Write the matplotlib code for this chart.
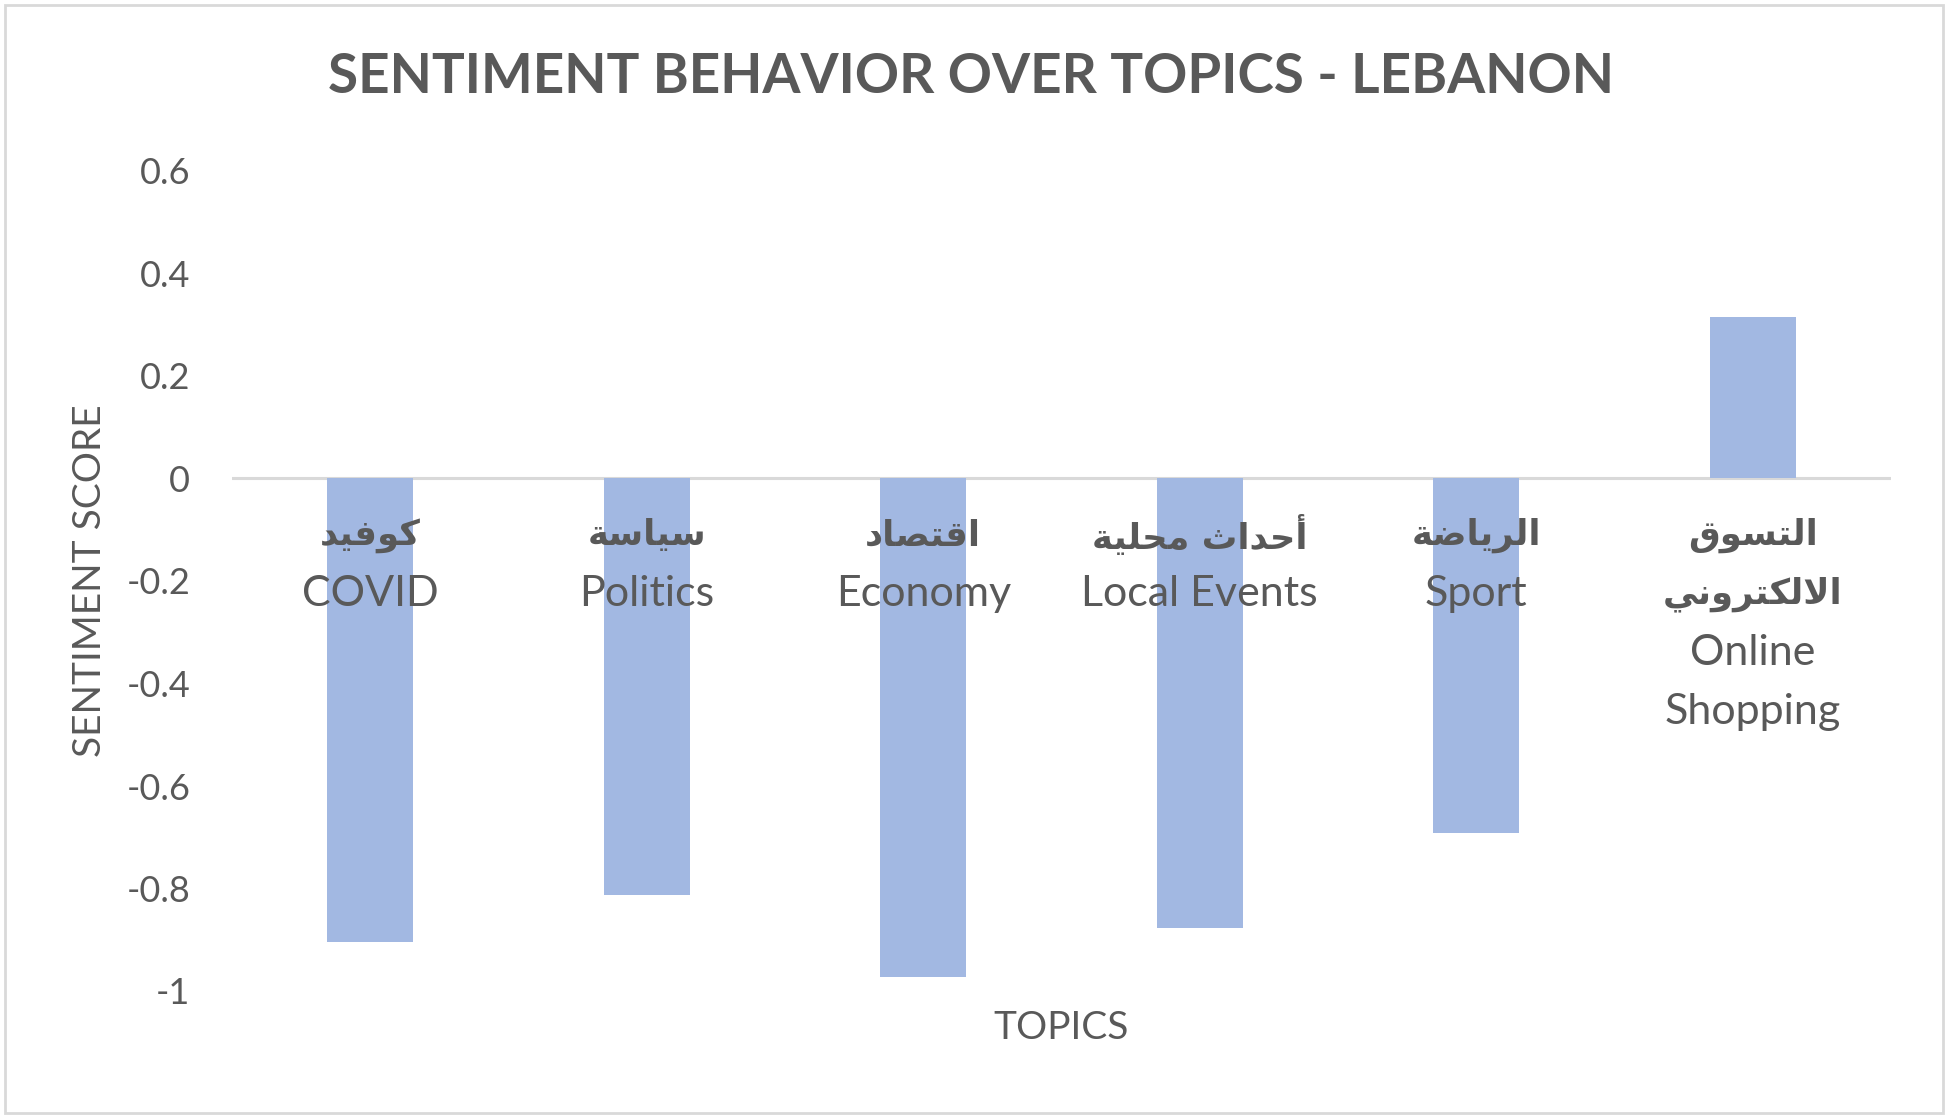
import numpy as np
import matplotlib.pyplot as plt
from matplotlib.patches import Rectangle

# data
topics_ar = ["كوفيد", "سياسة", "اقتصاد", "أحداث محلية", "الرياضة", "التسوق\nالالكتروني"]
topics_en = ["COVID", "Politics", "Economy", "Local Events", "Sport", "Online\nShopping"]
scores = [-0.905, -0.812, -0.973, -0.878, -0.691, 0.316]
y_ticks = [-1, -0.8, -0.6, -0.4, -0.2, 0, 0.2, 0.4, 0.6]
y_tick_labels = ["-1", "-0.8", "-0.6", "-0.4", "-0.2", "0", "0.2", "0.4", "0.6"]

GRAY = "#595959"
BAR = "#A2B8E2"
LINE = "#D9D9D9"
LATIN = ["Lato", "DejaVu Sans"]

# matplotlib has no arabic shaping, so pick presentation forms by hand
BASE = {'ا': 0xFE8D, 'أ': 0xFE83, 'د': 0xFEA9, 'ر': 0xFEAD, 'و': 0xFEED,
        'ة': 0xFE93, 'ت': 0xFE95, 'ث': 0xFE99, 'ح': 0xFEA1, 'س': 0xFEB1,
        'ص': 0xFEB9, 'ض': 0xFEBD, 'ف': 0xFED1, 'ق': 0xFED5, 'ك': 0xFED9,
        'ل': 0xFEDD, 'م': 0xFEE1, 'ن': 0xFEE5, 'ي': 0xFEF1}
RIGHT_ONLY = set('اأدروة')


def shape(text):
    out = []
    i, n = 0, len(text)
    while i < n:
        c = text[i]
        if c not in BASE:
            out.append(c)
            i += 1
            continue
        prev = text[i - 1] if i > 0 else ''
        jp = prev in BASE and prev not in RIGHT_ONLY
        if c == 'ل' and i + 1 < n and text[i + 1] in 'اأ':
            lig = 0xFEFB if text[i + 1] == 'ا' else 0xFEF7
            out.append(chr(lig + (1 if jp else 0)))
            i += 2
            continue
        nxt = text[i + 1] if i + 1 < n else ''
        jn = c not in RIGHT_ONLY and nxt in BASE
        k = 3 if (jp and jn) else 1 if jp else 2 if jn else 0
        out.append(chr(BASE[c] + k))
        i += 1
    return ''.join(out[::-1])


fig = plt.figure(figsize=(19.47, 11.18), dpi=100)
ax = fig.add_axes([232 / 1947, 1 - 991 / 1118, 1659 / 1947, 820 / 1118])

x = np.arange(len(scores))
ax.bar(x, scores, width=0.31, color=BAR, zorder=2)
ax.axhline(0, color=LINE, lw=2.2, zorder=1)

ax.set_xlim(-0.5, len(scores) - 0.5)
ax.set_ylim(-1, 0.6)
ax.set_yticks(y_ticks)
ax.set_yticklabels(y_tick_labels, family=LATIN, fontsize=26, color=GRAY)
ax.tick_params(axis='y', length=0, pad=30)
ax.set_xticks([])
for s in ax.spines.values():
    s.set_visible(False)

# category labels: arabic lines then english lines, below the zero line
for i in range(len(scores)):
    lines = [(l, True) for l in topics_ar[i].split("\n")] + \
            [(l, False) for l in topics_en[i].split("\n")]
    for k, (txt, is_ar) in enumerate(lines):
        ax.annotate(shape(txt) if is_ar else txt, xy=(x[i], 0),
                    xytext=(0, -57 - 59 * k), textcoords='offset pixels',
                    ha='center', va='center', color=GRAY,
                    fontsize=25.5 if is_ar else 31,
                    fontweight='bold' if is_ar else 'normal',
                    family=["DejaVu Sans"] if is_ar else LATIN, zorder=3)

fig.text(971 / 1947, 1 - 77 / 1118, "SENTIMENT BEHAVIOR OVER TOPICS - LEBANON",
         ha='center', va='center', fontsize=39.5, fontweight='bold',
         color=GRAY, family=LATIN)
fig.text(90 / 1947, 1 - 581 / 1118, "SENTIMENT SCORE", rotation=90,
         ha='center', va='center', fontsize=28, color=GRAY, family=LATIN)
fig.text(1061 / 1947, 1 - 1028 / 1118, "TOPICS",
         ha='center', va='center', fontsize=28, color=GRAY, family=LATIN)

fig.patches.append(Rectangle((5 / 1947, 5 / 1118), 1938 / 1947, 1108 / 1118,
                             transform=fig.transFigure, fill=False,
                             edgecolor=LINE, lw=2))

fig.savefig("out.png", dpi=100)
